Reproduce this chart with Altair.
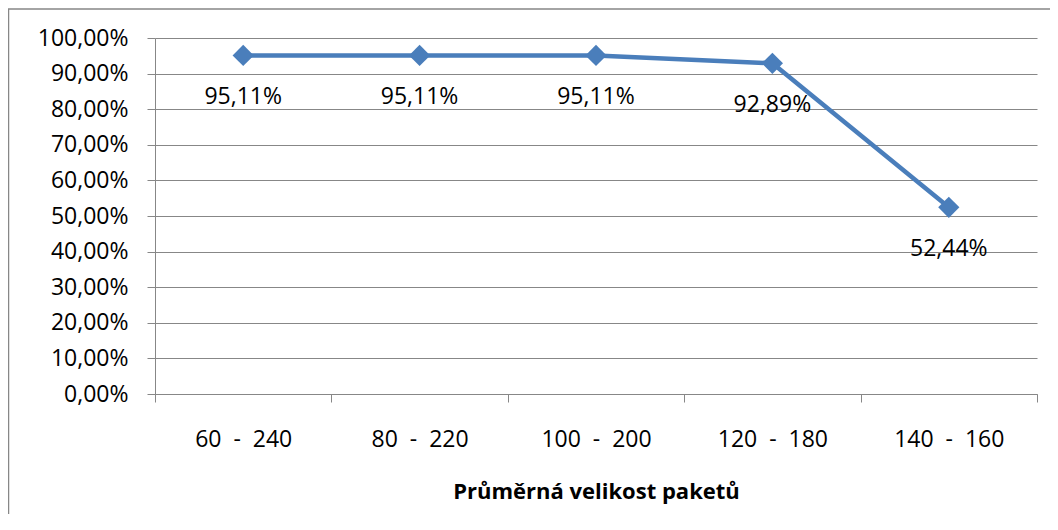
import altair as alt
import pandas as pd

# ---- data ----
categories = [
    "60\u00a0 -\u00a0 240",
    "80\u00a0 -\u00a0 220",
    "100\u00a0 -\u00a0 200",
    "120\u00a0 -\u00a0 180",
    "140\u00a0 -\u00a0 160",
]
values = [0.9511, 0.9511, 0.9511, 0.9289, 0.5244]
y_ticks = [0.0, 0.1, 0.2, 0.3, 0.4, 0.5, 0.6, 0.7, 0.8, 0.9, 1.0]
x_title = "Průměrná velikost paketů"

df = pd.DataFrame({"kat": categories, "val": values})

W, H = 882, 356
FONT = "Open Sans"
FS = 23
BLUE = "#4a7ebb"
GRID = "#878787"

pct_expr = "replace(format(datum.value, '.2%'), '.', ',')"

x_enc = alt.X(
    "kat:N",
    sort=categories,
    scale=alt.Scale(type="band", paddingInner=0, paddingOuter=0),
    axis=alt.Axis(
        title=x_title,
        tickBand="extent",
        labelAngle=0,
        tickSize=8,
        tickColor=GRID,
        domainColor=GRID,
        grid=False,
        labelPadding=44,
        labelBaseline="alphabetic",
        labelFont=FONT,
        labelFontSize=FS,
        labelColor="black",
        titleFont=FONT,
        titleFontSize=22,
        titleFontWeight="bold",
        titleColor="black",
        titleY=104,
        titleBaseline="alphabetic",
    ),
)

y_enc = alt.Y(
    "val:Q",
    scale=alt.Scale(domain=[0, 1], nice=False),
    axis=alt.Axis(
        title=None,
        values=y_ticks,
        labelExpr=pct_expr,
        tickSize=8,
        tickColor=GRID,
        domainColor=GRID,
        grid=True,
        gridColor=GRID,
        gridWidth=1,
        labelPadding=19,
        labelFont=FONT,
        labelFontSize=FS,
        labelColor="black",
    ),
)

base = alt.Chart(df).encode(x=x_enc, y=y_enc)

line = base.mark_line(color=BLUE, strokeWidth=4.5)
points = base.mark_point(shape="diamond", filled=True, size=450, color=BLUE, opacity=1)
labels = base.transform_calculate(
    lab="replace(format(datum.val, '.2%'), '.', ',')"
).mark_text(
    dy=48.5, baseline="alphabetic", align="center", font=FONT, fontSize=FS, color="black"
).encode(text="lab:N")

frame = alt.Chart(pd.DataFrame({"f": [0]})).mark_rect(
    filled=False, stroke=GRID, strokeWidth=1.5
).encode(
    x=alt.value(-146.5), x2=alt.value(W + 200), y=alt.value(-29), y2=alt.value(H + 300)
)

chart = (
    alt.layer(frame, line, points, labels)
    .properties(
        width=W,
        height=H,
        autosize=alt.AutoSizeParams(type="none"),
        padding={"left": 147, "top": 30, "right": 13, "bottom": 120},
    )
    .configure_view(strokeWidth=0)
)

chart.save("out.html", embed_options={"renderer": "svg", "actions": False})
